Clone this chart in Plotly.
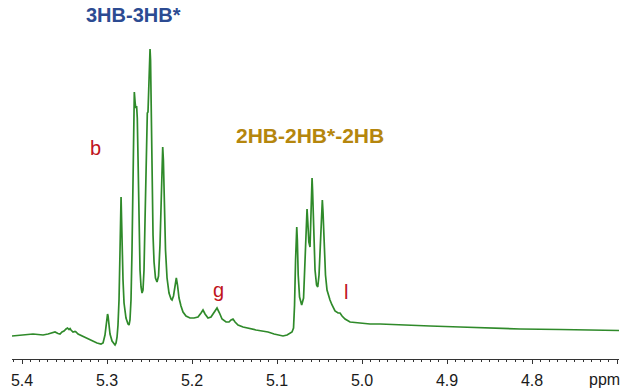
import plotly.graph_objects as go

# Chemical shift (ppm) and intensity (arbitrary units)
ppm = [5.4118, 5.4024, 5.3930, 5.3871, 5.3812, 5.3753, 5.3694, 5.3647, 5.3612, 5.3577,
       5.3553, 5.3530, 5.3506, 5.3482, 5.3465, 5.3447, 5.3435, 5.3424, 5.3400, 5.3377,
       5.3365, 5.3341, 5.3318, 5.3271, 5.3224, 5.3177, 5.3118, 5.3071, 5.3047, 5.3024,
       5.3012, 5.3000, 5.2994, 5.2988, 5.2977, 5.2965, 5.2941, 5.2918, 5.2906, 5.2894,
       5.2882, 5.2871, 5.2859, 5.2847, 5.2841, 5.2835, 5.2830, 5.2824, 5.2812, 5.2800,
       5.2777, 5.2753, 5.2741, 5.2730, 5.2718, 5.2706, 5.2694, 5.2686, 5.2679, 5.2668,
       5.2661, 5.2652, 5.2644, 5.2635, 5.2624, 5.2612, 5.2600, 5.2588, 5.2577, 5.2565,
       5.2553, 5.2541, 5.2532, 5.2526, 5.2518, 5.2508, 5.2500, 5.2494, 5.2488, 5.2480,
       5.2471, 5.2459, 5.2447, 5.2430, 5.2412, 5.2394, 5.2377, 5.2365, 5.2353, 5.2345,
       5.2337, 5.2326, 5.2312, 5.2294, 5.2271, 5.2247, 5.2235, 5.2218, 5.2200, 5.2185,
       5.2171, 5.2153, 5.2130, 5.2106, 5.2071, 5.2024, 5.1977, 5.1930, 5.1894, 5.1871,
       5.1847, 5.1812, 5.1777, 5.1741, 5.1706, 5.1677, 5.1647, 5.1600, 5.1565, 5.1541,
       5.1518, 5.1494, 5.1459, 5.1400, 5.1318, 5.1247, 5.1177, 5.1106, 5.1035, 5.0977,
       5.0930, 5.0882, 5.0847, 5.0824, 5.0806, 5.0794, 5.0782, 5.0774, 5.0768, 5.0761,
       5.0751, 5.0735, 5.0710, 5.0688, 5.0671, 5.0657, 5.0647, 5.0638, 5.0626, 5.0612,
       5.0600, 5.0593, 5.0588, 5.0582, 5.0571, 5.0553, 5.0535, 5.0521, 5.0506, 5.0488,
       5.0475, 5.0467, 5.0459, 5.0447, 5.0430, 5.0412, 5.0394, 5.0377, 5.0353, 5.0318,
       5.0282, 5.0259, 5.0235, 5.0200, 5.0141, 5.0024, 4.9906, 4.9788, 4.9553, 4.9200,
       4.8847, 4.8494, 4.8141, 4.7671, 4.7200, 4.6977]

intensity = [23, 23.5, 24, 25, 24.5, 24, 25, 26, 27, 25.5,
             25, 27, 28, 30, 31, 29.5, 30.5, 29, 27, 27.5,
             27, 25, 24, 22, 20, 18, 16, 15, 16, 24,
             35, 43, 45, 43, 35, 25, 18, 14.5, 14, 16,
             22, 34, 59, 109, 144, 162, 144, 114, 79, 56,
             41, 35, 34, 39, 59, 109, 189, 244, 267, 255,
             251, 253, 241, 199, 129, 89, 72, 66, 69, 89,
             139, 209, 244, 246, 247, 269, 299, 310, 299, 249,
             179, 124, 97, 81, 77, 83, 114, 159, 199, 212,
             199, 154, 109, 81, 66, 60, 59, 63, 74, 81,
             74, 61, 53, 47, 43, 41, 41, 42, 46, 49,
             45, 41, 42, 47, 51, 46, 40, 37, 37, 39,
             40, 37, 34, 32, 30, 29, 28, 27, 25, 23.5,
             23, 24, 26, 27, 31, 54, 99, 124, 132, 119,
             84, 62, 54, 61, 99, 139, 150, 137, 117, 112,
             139, 169, 181, 169, 129, 89, 74, 72, 84, 119,
             149, 159, 147, 114, 84, 69, 63, 59, 54, 48,
             46, 46, 43, 40, 37, 36, 35, 35, 34, 33,
             32, 31, 30, 29.5, 29, 28.5]

tick_vals = [5.4, 5.3, 5.2, 5.1, 5.0, 4.9, 4.8, 4.7]
tick_text = ["5.4", "5.3", "5.2", "5.1", "5.0", "4.9", "4.8", ""]

# Annotation labels: (text, ppm, intensity, color, bold)
label_text = ["3HB-3HB*", "2HB-2HB*-2HB", "b", "g", "l"]
label_ppm = [5.2688, 5.0612, 5.3141, 5.1694, 5.0192]
label_int = [344, 224, 211, 69, 67]
label_color = ["#2C4B92", "#B5860D", "#C0141C", "#C0141C", "#C0141C"]
label_bold = [True, True, False, False, False]
label_size = [20, 21, 20, 20, 20]

GREEN = "#2F8A2A"
FONT = "Liberation Sans, Arial, sans-serif"

fig = go.Figure()
fig.add_trace(go.Scatter(x=ppm, y=intensity, mode="lines",
                         line=dict(color=GREEN, width=1.7), hoverinfo="skip"))

for t, xp, yi, c, b, s in zip(label_text, label_ppm, label_int, label_color, label_bold, label_size):
    fig.add_annotation(x=xp, y=yi, xref="x", yref="y", showarrow=False,
                       text=f"<b>{t}</b>" if b else t,
                       font=dict(family=FONT, size=s, color=c),
                       xanchor="center", yanchor="middle")

fig.add_annotation(x=4.7153, y=-0.057, xref="x", yref="paper", showarrow=False,
                   text="ppm", xanchor="center", yanchor="middle",
                   font=dict(family=FONT, size=16, color="#1a1a1a"))

fig.update_layout(
    width=621, height=391,
    margin=dict(l=12, r=2, t=0, b=32),
    paper_bgcolor="white", plot_bgcolor="white",
    showlegend=False,
    xaxis=dict(range=[5.4118, 4.6977], tickmode="array", tickvals=tick_vals, ticktext=tick_text,
               showline=True, linecolor="#333333", linewidth=1,
               ticks="outside", ticklen=4, tickwidth=1, tickcolor="#333333",
               ticklabelstandoff=3,
               minor=dict(dtick=0.01, tick0=4.7, ticks="outside", ticklen=2, tickcolor="#333333"),
               showgrid=False, zeroline=False,
               tickfont=dict(family=FONT, size=16, color="#1a1a1a")),
    yaxis=dict(range=[0, 359], visible=False, showgrid=False, zeroline=False),
)

fig.write_html("out.html")
